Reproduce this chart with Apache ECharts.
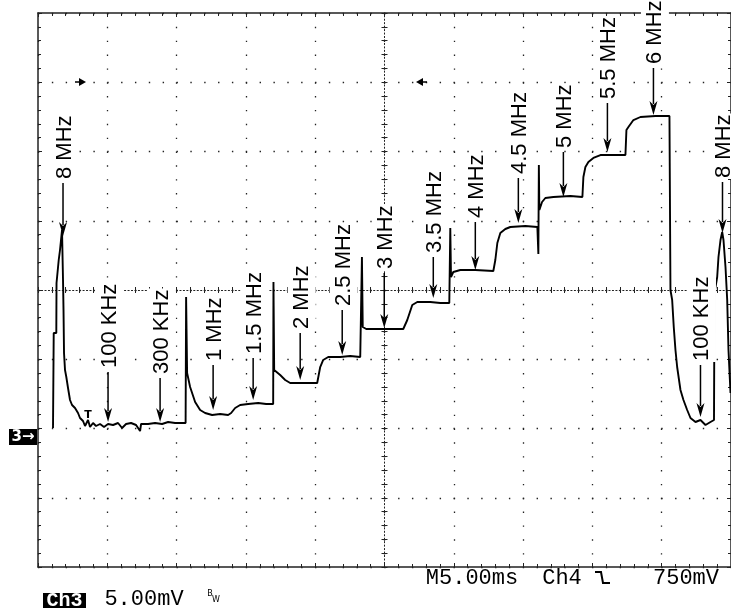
<!DOCTYPE html>
<html><head><meta charset="utf-8">
<script src="https://cdn.jsdelivr.net/npm/echarts@6/dist/echarts.min.js"></script>
<style>html,body{margin:0;padding:0;background:#fff}#c{width:731px;height:608px}</style>
</head><body><div id="c"></div>
<script>
// Trace: time (ms, relative to screen centre) and level (mV, relative to screen centre)
const traceTimeMs = [-23.917,-23.866,-23.679,-23.664,-23.505,-23.412,-23.267,-23.195,-23.159,-23.123,-23.051,-22.957,-22.834,-22.69,-22.545,-22.329,-22.112,-21.968,-21.751,-21.606,-21.39,-21.245,-21.029,-20.812,-20.523,-20.235,-19.946,-19.585,-19.224,-18.935,-18.646,-18.285,-17.924,-17.635,-17.563,-17.058,-16.552,-16.047,-15.614,-15.108,-14.531,-14.35,-14.314,-14.242,-14.025,-13.664,-13.303,-12.942,-12.437,-11.859,-11.282,-11.065,-10.776,-10.415,-9.838,-9.116,-8.538,-8.032,-8.011,-7.96,-7.527,-7.166,-6.805,-6.083,-5.361,-4.856,-4.639,-4.422,-4.061,-3.195,-2.473,-1.751,-1.628,-1.57,-1.318,-0.307,0.776,1.354,1.643,2.004,2.365,3.303,4.025,4.675,4.747,4.798,4.964,5.469,6.552,7.852,7.996,8.141,8.357,8.718,9.079,10.162,11.029,11.101,11.137,11.173,11.368,11.606,12.184,13.412,14.278,14.35,14.495,14.711,15.072,15.578,16.444,17.383,17.455,17.599,17.96,18.466,19.549,20.56,20.632,20.755,20.87,20.993,21.115,21.354,21.57,21.838,22.076,22.437,22.798,23.159,23.52,23.773,23.809,24.004,24.097,24.242,24.365,24.458,24.603,24.726,24.819,24.964];
const traceLevelMv = [-9.964,-3.105,-3.105,0.505,2.166,2.888,4.332,0.722,-1.444,-4.549,-5.776,-6.282,-7.076,-7.942,-8.303,-8.52,-8.881,-9.242,-9.458,-9.819,-9.386,-9.892,-9.603,-9.819,-9.675,-9.892,-9.675,-9.747,-9.603,-9.964,-9.675,-9.603,-9.747,-10.181,-9.675,-9.675,-9.603,-9.675,-9.531,-9.603,-9.603,-9.603,-0.505,-5.993,-7.004,-8.087,-8.664,-8.881,-9.025,-8.953,-9.025,-8.881,-8.52,-8.303,-8.231,-8.159,-8.231,-8.231,0.578,-5.776,-6.137,-6.498,-6.715,-6.715,-6.715,-6.715,-5.56,-5.054,-4.838,-4.838,-4.765,-4.838,2.383,-2.671,-2.816,-2.816,-2.816,-2.816,-2.166,-1.083,-0.866,-0.866,-0.939,-0.939,4.477,0.939,1.3,1.444,1.444,1.372,2.166,3.394,4.116,4.404,4.549,4.621,4.549,2.599,9.025,5.776,6.354,6.643,6.715,6.787,6.715,8.159,8.881,9.242,9.531,9.747,9.747,9.747,11.552,11.769,12.274,12.491,12.563,12.563,0,-0.722,-2.671,-4.332,-5.56,-7.22,-7.942,-8.664,-9.242,-9.531,-9.386,-9.747,-9.531,-9.386,-0.217,0.939,2.383,3.61,4.188,3.61,1.661,-0.722,-4.332,-7.437];

// Frequency annotations
const annotLabels = ['8 MHz','100 KHz','300 KHz','1 MHz','1.5 MHz','2 MHz','2.5 MHz','3 MHz','3.5 MHz','4 MHz','4.5 MHz','5 MHz','5.5 MHz','6 MHz','8 MHz','100 KHz'];
const annotTimeMs = [-23.195,-19.946,-16.191,-12.365,-9.477,-6.083,-3.051,-0.018,3.52,6.552,9.657,12.906,16.083,19.404,24.386,22.798];
const annotTipMv = [3.899,-9.531,-9.531,-8.664,-7.942,-6.498,-4.693,-2.744,-0.578,1.444,4.838,6.715,9.964,12.635,4.116,-9.17];
const annotTailMv = [7.726,-5.921,-6.354,-5.415,-4.91,-3.105,-1.444,1.227,2.383,4.91,8.087,9.964,13.502,16.029,7.798,-5.415];

// Scope readouts
const readoutCh = 'Ch3';
const readoutScale = '5.00mV';
const readoutTime = 'M5.00ms';
const readoutTrigCh = 'Ch4';
const readoutTrigLevel = '750mV';

const labelFont = '"Liberation Sans Narrow","Arial Narrow","Liberation Sans",sans-serif';
const monoFont = '"Liberation Mono","DejaVu Sans Mono",monospace';

const gridCol = '#222';
function borderAxis(pos, split) {
  return {
    type:'value', position:pos,
    axisLine:{show:true, onZero:false, lineStyle:{color:gridCol, width:1.5}},
    axisTick:{show:true, inside:true, length:4, lineStyle:{color:gridCol, width:1}},
    minorTick:{show:true, splitNumber:5, length:3, lineStyle:{color:gridCol, width:1}},
    axisLabel:{show:false},
    splitLine:{show:split, lineStyle:{color:'#222', width:1.3, type:[1.4,12.45]}},
    minorSplitLine:{show:false}
  };
}
function centreAxis(pos, inside) {
  return {
    type:'value', position:pos,
    axisLine:{show:true, onZero:true, onZeroAxisIndex:0, lineStyle:{color:'#222', width:1, type:[1.2,2.26]}},
    axisTick:{show:true, inside:inside, length:3, lineStyle:{color:'#222', width:1}},
    minorTick:{show:true, splitNumber:5, length:3, lineStyle:{color:'#222', width:1}},
    axisLabel:{show:false},
    splitLine:{show:false}
  };
}
const xr = {min:-25, max:25, interval:5};
const yr = {min:-20, max:20, interval:5};
const xAxes = [borderAxis('bottom', true), borderAxis('top', false), centreAxis('bottom', true), centreAxis('bottom', false)].map(a=>Object.assign(a, xr));
const yAxes = [borderAxis('left', true), borderAxis('right', false), centreAxis('left', true), centreAxis('left', false)].map(a=>Object.assign(a, yr));
// the second centre axis only adds ticks on the other side
xAxes[3].axisLine.lineStyle.opacity = 0;
yAxes[3].axisLine.lineStyle.opacity = 0;

const traceData = traceTimeMs.map((t,i)=>[t, traceLevelMv[i]]);

const chart = echarts.init(document.getElementById('c'), null, {renderer:'canvas'});
chart.setOption({
  animation:false,
  backgroundColor:'#fff',
  grid:{left:38, top:13, width:693, height:554, show:false},
  xAxis:xAxes,
  yAxis:yAxes,
  series:[{
    type:'line', xAxisIndex:0, yAxisIndex:0, data:traceData,
    showSymbol:false, symbol:'none', z:10,
    lineStyle:{color:'#000', width:1.9}
  }]
});

const toPx = (t,v) => chart.convertToPixel({xAxisIndex:0, yAxisIndex:0}, [t,v]);
const g = [];
annotLabels.forEach((lab,i)=>{
  const tip = toPx(annotTimeMs[i], annotTipMv[i]);
  const tail = toPx(annotTimeMs[i], annotTailMv[i]);
  const head = 14, hw = 4;
  g.push({type:'line', z:50, shape:{x1:tip[0], y1:tail[1], x2:tip[0], y2:tip[1]-head+3}, style:{stroke:'#000', lineWidth:1.5}});
  g.push({type:'polygon', z:50, shape:{points:[[tip[0]-hw, tip[1]-head],[tip[0], tip[1]-head+4],[tip[0]+hw, tip[1]-head],[tip[0], tip[1]]]}, style:{fill:'#000'}});
  g.push({type:'text', z:51, x:tip[0]+1.5, y:tail[1]-3, rotation:Math.PI/2,
    style:{text:lab, fontFamily:labelFont, fontSize:22, fill:'#000', align:'left', verticalAlign:'middle',
      backgroundColor:'#fff', padding:[3,1,3,1]}});
});
// ground marker "3→"
g.push({type:'rect', z:60, shape:{x:9, y:429, width:28, height:16}, style:{fill:'#000'}});
g.push({type:'text', z:61, x:23, y:437.5, style:{text:'3→', fontFamily:'"DejaVu Sans",sans-serif', fontWeight:'bold', fontSize:15, fill:'#fff', align:'center', verticalAlign:'middle'}});
// top markers
g.push({type:'polyline', z:60, shape:{points:[[75,82],[83,82]]}, style:{stroke:'#000', lineWidth:1.5}});
g.push({type:'polygon', z:60, shape:{points:[[79,78],[86,82],[79,86]]}, style:{fill:'#000'}});
g.push({type:'polyline', z:60, shape:{points:[[419,82],[427,82]]}, style:{stroke:'#000', lineWidth:1.5}});
g.push({type:'polygon', z:60, shape:{points:[[423,78],[416,82],[423,86]]}, style:{fill:'#000'}});
// trigger T marker
g.push({type:'text', z:60, x:88, y:415, style:{text:'T', fontFamily:'"DejaVu Sans",sans-serif', fontWeight:'bold', fontSize:11, fill:'#000', align:'center', verticalAlign:'middle'}});
// readouts
g.push({type:'rect', z:60, shape:{x:43, y:593, width:43, height:15}, style:{fill:'#000'}});
g.push({type:'text', z:61, x:64.5, y:600.5, style:{text:readoutCh, fontFamily:monoFont, fontSize:20, fontWeight:'bold', fill:'#fff', align:'center', verticalAlign:'middle'}});
g.push({type:'text', z:60, x:144, y:599.5, style:{text:readoutScale, fontFamily:monoFont, fontSize:22, fill:'#000', align:'center', verticalAlign:'middle'}});
g.push({type:'text', z:60, x:210, y:594, style:{text:'B', fontFamily:'"DejaVu Sans",sans-serif', fontSize:8, fill:'#000', align:'center', verticalAlign:'middle'}});
g.push({type:'text', z:60, x:216, y:600, style:{text:'W', fontFamily:'"DejaVu Sans",sans-serif', fontSize:8, fill:'#000', align:'center', verticalAlign:'middle'}});
g.push({type:'text', z:60, x:472, y:578.5, style:{text:readoutTime, fontFamily:monoFont, fontSize:22, fill:'#000', align:'center', verticalAlign:'middle'}});
g.push({type:'text', z:60, x:562, y:578.5, style:{text:readoutTrigCh, fontFamily:monoFont, fontSize:22, fill:'#000', align:'center', verticalAlign:'middle'}});
g.push({type:'polyline', z:60, shape:{points:[[595,572],[601,572],[603,583],[610,583]]}, style:{stroke:'#000', lineWidth:2}});
g.push({type:'text', z:60, x:686, y:578.5, style:{text:readoutTrigLevel, fontFamily:monoFont, fontSize:22, fill:'#000', align:'center', verticalAlign:'middle'}});

chart.setOption({graphic:{elements:g}});
</script></body></html>
